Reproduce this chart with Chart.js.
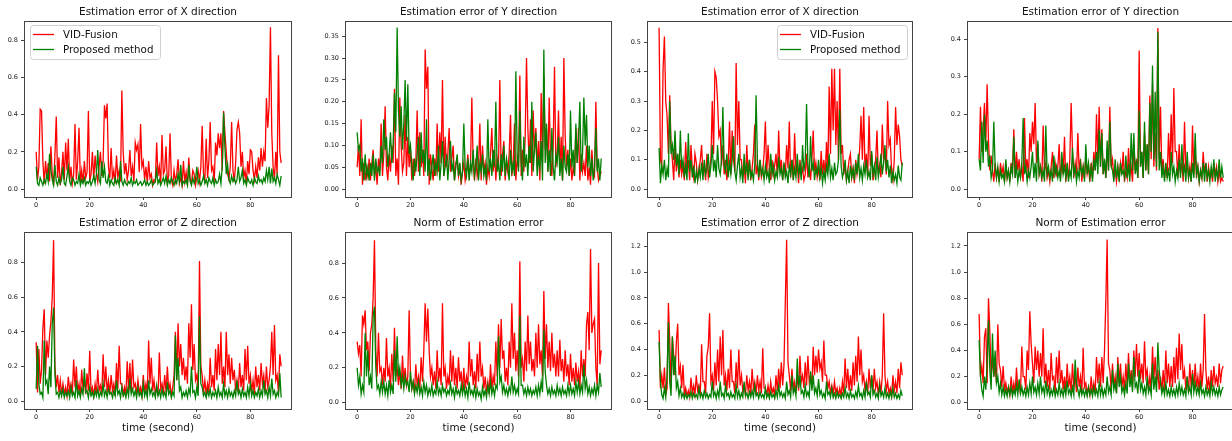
<!DOCTYPE html>
<html>
<head>
<meta charset="utf-8">
<script src="https://cdn.jsdelivr.net/npm/chart.js@4.4.1/dist/chart.umd.min.js"></script>
<style>
  html, body { margin: 0; padding: 0; background: #fff; }
  body { position: relative; width: 1232px; height: 441px; overflow: hidden; }
  canvas { position: absolute; }
</style>
</head>
<body>
<script>
// ─── Sampling ─────────────────────────────────────────────────────────────────
const SAMPLE_STEP = 0.5;            // seconds between samples
const X_TICKS = [0, 20, 40, 60, 80];
const SERIES_LABELS = ['VID-Fusion', 'Proposed method'];

// ─── Run A: X / Y / Z / norm errors ──────────────────────────────────────────
const X_ERR_VID_A = [
  0.20, 0.05, 0.12, 0.43, 0.42, 0.15, 0.03, 0.15, 0.06, 0.14,
  0.04, 0.23, 0.08, 0.02, 0.18, 0.39, 0.06, 0.17, 0.02, 0.09,
  0.20, 0.05, 0.25, 0.10, 0.27, 0.04, 0.12, 0.03, 0.08, 0.35,
  0.05, 0.15, 0.33, 0.04, 0.10, 0.03, 0.15, 0.06, 0.09, 0.42,
  0.04, 0.08, 0.20, 0.05, 0.18, 0.09, 0.04, 0.12, 0.20, 0.07,
  0.15, 0.45, 0.38, 0.46, 0.12, 0.06, 0.22, 0.05, 0.10, 0.03,
  0.18, 0.06, 0.10, 0.04, 0.53, 0.20, 0.08, 0.14, 0.05, 0.10,
  0.21, 0.07, 0.12, 0.04, 0.25, 0.21, 0.24, 0.09, 0.35, 0.12,
  0.15, 0.05, 0.12, 0.03, 0.15, 0.06, 0.08, 0.02, 0.05, 0.04,
  0.25, 0.07, 0.12, 0.03, 0.29, 0.08, 0.10, 0.23, 0.04, 0.07,
  0.30, 0.05, 0.02, 0.10, 0.04, 0.08, 0.16, 0.03, 0.06, 0.02,
  0.15, 0.04, 0.09, 0.02, 0.17, 0.05, 0.03, 0.10, 0.08, 0.02,
  0.06, 0.10, 0.04, 0.12, 0.34, 0.08, 0.05, 0.27, 0.06, 0.15,
  0.36, 0.10, 0.12, 0.04, 0.25, 0.18, 0.30, 0.22, 0.30, 0.10,
  0.42, 0.30, 0.20, 0.08, 0.05, 0.12, 0.36, 0.10, 0.04, 0.14,
  0.32, 0.36, 0.30, 0.12, 0.20, 0.06, 0.10, 0.03, 0.15, 0.08,
  0.21, 0.20, 0.10, 0.05, 0.12, 0.06, 0.17, 0.10, 0.22, 0.12,
  0.20, 0.15, 0.49, 0.33, 0.45, 0.87, 0.30, 0.12, 0.05, 0.20,
  0.08, 0.72, 0.20, 0.14
];
const X_ERR_OURS_A = [
  0.12, 0.03, 0.02, 0.06, 0.04, 0.02, 0.05, 0.03, 0.08, 0.04,
  0.19, 0.10, 0.05, 0.02, 0.13, 0.04, 0.02, 0.06, 0.03, 0.05,
  0.12, 0.03, 0.02, 0.07, 0.12, 0.04, 0.02, 0.06, 0.05, 0.02,
  0.04, 0.03, 0.08, 0.02, 0.05, 0.03, 0.06, 0.02, 0.04, 0.03,
  0.05, 0.02, 0.04, 0.07, 0.03, 0.08, 0.21, 0.05, 0.03, 0.15,
  0.06, 0.12, 0.04, 0.03, 0.07, 0.02, 0.05, 0.03, 0.02, 0.06,
  0.03, 0.05, 0.02, 0.15, 0.04, 0.02, 0.05, 0.03, 0.02, 0.04,
  0.03, 0.06, 0.02, 0.04, 0.03, 0.05, 0.02, 0.03, 0.04, 0.02,
  0.03, 0.05, 0.02, 0.04, 0.02, 0.03, 0.05, 0.02, 0.03, 0.04,
  0.10, 0.03, 0.05, 0.02, 0.04, 0.06, 0.03, 0.07, 0.02, 0.05,
  0.03, 0.06, 0.04, 0.02, 0.05, 0.03, 0.08, 0.04, 0.13, 0.02,
  0.04, 0.03, 0.05, 0.02, 0.13, 0.04, 0.02, 0.06, 0.03, 0.05,
  0.12, 0.03, 0.05, 0.02, 0.04, 0.07, 0.03, 0.05, 0.02, 0.06,
  0.04, 0.03, 0.06, 0.02, 0.05, 0.03, 0.04, 0.08, 0.03, 0.12,
  0.41, 0.22, 0.08, 0.13, 0.05, 0.03, 0.07, 0.04, 0.06, 0.03,
  0.05, 0.12, 0.04, 0.06, 0.10, 0.03, 0.05, 0.02, 0.06, 0.04,
  0.03, 0.05, 0.02, 0.06, 0.04, 0.03, 0.07, 0.04, 0.05, 0.03,
  0.06, 0.04, 0.10, 0.05, 0.12, 0.03, 0.11, 0.04, 0.06, 0.03,
  0.08, 0.05, 0.02, 0.07
];
const Y_ERR_VID_A = [
  0.05, 0.10, 0.03, 0.16, 0.01, 0.06, 0.02, 0.05, 0.03, 0.07,
  0.02, 0.06, 0.09, 0.03, 0.05, 0.01, 0.07, 0.04, 0.15, 0.03,
  0.08, 0.19, 0.05, 0.02, 0.08, 0.04, 0.10, 0.06, 0.23, 0.03,
  0.07, 0.01, 0.21, 0.10, 0.04, 0.06, 0.17, 0.03, 0.12, 0.05,
  0.09, 0.02, 0.07, 0.03, 0.06, 0.18, 0.04, 0.13, 0.05, 0.09,
  0.03, 0.32, 0.23, 0.28, 0.01, 0.08, 0.05, 0.02, 0.07, 0.03,
  0.15, 0.04, 0.13, 0.06, 0.25, 0.03, 0.12, 0.05, 0.08, 0.14,
  0.04, 0.07, 0.10, 0.02, 0.06, 0.07, 0.03, 0.05, 0.01, 0.04,
  0.06, 0.02, 0.04, 0.08, 0.03, 0.05, 0.21, 0.06, 0.02, 0.07,
  0.03, 0.05, 0.15, 0.02, 0.10, 0.04, 0.06, 0.01, 0.05, 0.03,
  0.08, 0.14, 0.04, 0.09, 0.02, 0.07, 0.05, 0.25, 0.03, 0.08,
  0.11, 0.02, 0.06, 0.04, 0.08, 0.17, 0.03, 0.06, 0.15, 0.02,
  0.07, 0.05, 0.26, 0.03, 0.09, 0.04, 0.12, 0.30, 0.14, 0.06,
  0.16, 0.03, 0.18, 0.08, 0.14, 0.05, 0.11, 0.02, 0.22, 0.06,
  0.26, 0.09, 0.14, 0.04, 0.21, 0.07, 0.03, 0.10, 0.28, 0.05,
  0.08, 0.18, 0.04, 0.12, 0.02, 0.30, 0.12, 0.05, 0.09, 0.03,
  0.07, 0.02, 0.05, 0.03, 0.14, 0.06, 0.14, 0.02, 0.08, 0.04,
  0.06, 0.03, 0.10, 0.02, 0.05, 0.01, 0.09, 0.04, 0.03, 0.20,
  0.05, 0.02, 0.03, 0.04
];
const Y_ERR_OURS_A = [
  0.13, 0.09, 0.10, 0.04, 0.07, 0.02, 0.08, 0.03, 0.05, 0.02,
  0.06, 0.03, 0.08, 0.02, 0.07, 0.04, 0.05, 0.03, 0.10, 0.06,
  0.16, 0.09, 0.12, 0.05, 0.08, 0.13, 0.06, 0.10, 0.22, 0.13,
  0.37, 0.18, 0.12, 0.19, 0.09, 0.15, 0.25, 0.11, 0.24, 0.08,
  0.10, 0.05, 0.02, 0.07, 0.04, 0.08, 0.12, 0.03, 0.13, 0.06,
  0.09, 0.04, 0.16, 0.03, 0.07, 0.02, 0.05, 0.08, 0.03, 0.06,
  0.04, 0.10, 0.02, 0.06, 0.11, 0.03, 0.05, 0.08, 0.02, 0.07,
  0.11, 0.04, 0.06, 0.02, 0.05, 0.08, 0.03, 0.06, 0.02, 0.04,
  0.15, 0.05, 0.03, 0.07, 0.02, 0.06, 0.04, 0.09, 0.03, 0.05,
  0.10, 0.02, 0.06, 0.04, 0.08, 0.03, 0.05, 0.02, 0.16, 0.04,
  0.07, 0.03, 0.09, 0.05, 0.20, 0.04, 0.06, 0.02, 0.08, 0.04,
  0.10, 0.03, 0.07, 0.05, 0.02, 0.09, 0.04, 0.06, 0.03, 0.27,
  0.08, 0.04, 0.18, 0.06, 0.02, 0.12, 0.05, 0.08, 0.03, 0.10,
  0.06, 0.20, 0.04, 0.09, 0.13, 0.03, 0.07, 0.05, 0.11, 0.02,
  0.32, 0.06, 0.15, 0.04, 0.09, 0.03, 0.14, 0.05, 0.02, 0.08,
  0.06, 0.12, 0.03, 0.07, 0.02, 0.10, 0.05, 0.04, 0.08, 0.03,
  0.18, 0.05, 0.09, 0.03, 0.15, 0.06, 0.11, 0.20, 0.04, 0.08,
  0.21, 0.10, 0.17, 0.05, 0.10, 0.03, 0.07, 0.02, 0.05, 0.14,
  0.04, 0.07, 0.02, 0.07
];
const Z_ERR_VID_A = [
  0.34, 0.05, 0.30, 0.10, 0.18, 0.42, 0.53, 0.15, 0.35, 0.25,
  0.38, 0.46, 0.60, 0.93, 0.20, 0.08, 0.15, 0.05, 0.12, 0.04,
  0.10, 0.04, 0.08, 0.03, 0.14, 0.06, 0.10, 0.04, 0.24, 0.08,
  0.20, 0.05, 0.10, 0.03, 0.18, 0.07, 0.12, 0.04, 0.16, 0.06,
  0.29, 0.05, 0.08, 0.03, 0.10, 0.04, 0.18, 0.06, 0.09, 0.04,
  0.27, 0.08, 0.20, 0.05, 0.12, 0.04, 0.15, 0.06, 0.10, 0.03,
  0.22, 0.07, 0.32, 0.10, 0.10, 0.04, 0.08, 0.03, 0.23, 0.06,
  0.22, 0.05, 0.24, 0.08, 0.10, 0.04, 0.12, 0.05, 0.08, 0.03,
  0.15, 0.05, 0.10, 0.04, 0.35, 0.10, 0.25, 0.06, 0.12, 0.04,
  0.08, 0.03, 0.28, 0.07, 0.10, 0.04, 0.15, 0.05, 0.20, 0.06,
  0.10, 0.03, 0.08, 0.15, 0.40, 0.12, 0.45, 0.20, 0.33, 0.15,
  0.25, 0.12, 0.20, 0.10, 0.45, 0.25, 0.56, 0.18, 0.33, 0.12,
  0.15, 0.06, 0.81, 0.20, 0.15, 0.05, 0.12, 0.04, 0.10, 0.05,
  0.25, 0.08, 0.15, 0.06, 0.30, 0.12, 0.33, 0.15, 0.40, 0.10,
  0.20, 0.08, 0.40, 0.15, 0.27, 0.10, 0.25, 0.12, 0.18, 0.06,
  0.12, 0.05, 0.22, 0.08, 0.15, 0.06, 0.30, 0.12, 0.32, 0.10,
  0.15, 0.05, 0.12, 0.04, 0.20, 0.08, 0.15, 0.06, 0.22, 0.10,
  0.15, 0.05, 0.20, 0.08, 0.12, 0.20, 0.40, 0.15, 0.44, 0.12,
  0.15, 0.05, 0.27, 0.20
];
const Z_ERR_OURS_A = [
  0.07, 0.32, 0.10, 0.04, 0.05, 0.02, 0.35, 0.10, 0.12, 0.04,
  0.20, 0.08, 0.45, 0.54, 0.15, 0.04, 0.05, 0.02, 0.06, 0.03,
  0.07, 0.02, 0.05, 0.03, 0.06, 0.02, 0.08, 0.03, 0.05, 0.02,
  0.12, 0.03, 0.06, 0.02, 0.07, 0.04, 0.19, 0.05, 0.06, 0.02,
  0.08, 0.03, 0.05, 0.02, 0.06, 0.03, 0.07, 0.02, 0.05, 0.03,
  0.10, 0.03, 0.06, 0.02, 0.07, 0.04, 0.05, 0.02, 0.06, 0.03,
  0.12, 0.04, 0.06, 0.02, 0.08, 0.03, 0.05, 0.02, 0.07, 0.03,
  0.13, 0.04, 0.07, 0.03, 0.06, 0.02, 0.08, 0.03, 0.05, 0.02,
  0.10, 0.03, 0.06, 0.02, 0.12, 0.04, 0.07, 0.03, 0.05, 0.02,
  0.09, 0.03, 0.06, 0.02, 0.07, 0.03, 0.05, 0.02, 0.11, 0.04,
  0.06, 0.02, 0.05, 0.03, 0.38, 0.12, 0.25, 0.06, 0.08, 0.02,
  0.05, 0.03, 0.06, 0.02, 0.07, 0.04, 0.20, 0.05, 0.06, 0.02,
  0.08, 0.03, 0.49, 0.10, 0.08, 0.03, 0.05, 0.02, 0.06, 0.03,
  0.07, 0.02, 0.05, 0.03, 0.06, 0.02, 0.08, 0.03, 0.05, 0.02,
  0.10, 0.03, 0.06, 0.02, 0.07, 0.03, 0.05, 0.02, 0.06, 0.03,
  0.12, 0.04, 0.06, 0.02, 0.07, 0.03, 0.05, 0.02, 0.08, 0.03,
  0.10, 0.03, 0.06, 0.02, 0.05, 0.03, 0.07, 0.02, 0.06, 0.03,
  0.12, 0.04, 0.06, 0.02, 0.08, 0.03, 0.13, 0.04, 0.06, 0.02,
  0.05, 0.03, 0.16, 0.02
];
const NORM_ERR_VID_A = [
  0.35, 0.28, 0.33, 0.15, 0.50, 0.45, 0.53, 0.30, 0.35, 0.18,
  0.40, 0.45, 0.60, 0.93, 0.30, 0.15, 0.40, 0.18, 0.20, 0.10,
  0.20, 0.12, 0.37, 0.15, 0.20, 0.08, 0.28, 0.12, 0.43, 0.15,
  0.20, 0.10, 0.18, 0.08, 0.27, 0.12, 0.20, 0.10, 0.15, 0.53,
  0.15, 0.08, 0.12, 0.06, 0.22, 0.10, 0.15, 0.08, 0.26, 0.12,
  0.30, 0.57, 0.35, 0.54, 0.30, 0.15, 0.20, 0.10, 0.18, 0.08,
  0.30, 0.12, 0.20, 0.10, 0.57, 0.15, 0.20, 0.08, 0.15, 0.10,
  0.30, 0.12, 0.27, 0.10, 0.20, 0.08, 0.26, 0.12, 0.18, 0.06,
  0.20, 0.08, 0.15, 0.10, 0.35, 0.15, 0.25, 0.10, 0.18, 0.08,
  0.28, 0.12, 0.35, 0.15, 0.20, 0.08, 0.15, 0.06, 0.12, 0.05,
  0.22, 0.08, 0.15, 0.10, 0.35, 0.15, 0.45, 0.20, 0.48, 0.25,
  0.30, 0.12, 0.20, 0.10, 0.35, 0.20, 0.57, 0.25, 0.40, 0.18,
  0.30, 0.15, 0.81, 0.20, 0.25, 0.12, 0.35, 0.18, 0.50, 0.22,
  0.35, 0.18, 0.25, 0.15, 0.40, 0.20, 0.45, 0.22, 0.30, 0.15,
  0.64, 0.25, 0.45, 0.20, 0.35, 0.18, 0.40, 0.20, 0.28, 0.15,
  0.30, 0.15, 0.36, 0.18, 0.25, 0.12, 0.30, 0.15, 0.22, 0.10,
  0.28, 0.12, 0.20, 0.10, 0.23, 0.12, 0.18, 0.08, 0.30, 0.15,
  0.25, 0.15, 0.45, 0.52, 0.30, 0.88, 0.40, 0.45, 0.48, 0.20,
  0.10, 0.80, 0.22, 0.30
];
const NORM_ERR_OURS_A = [
  0.20, 0.10, 0.15, 0.05, 0.10, 0.06, 0.40, 0.15, 0.30, 0.10,
  0.15, 0.08, 0.50, 0.55, 0.20, 0.08, 0.10, 0.05, 0.12, 0.06,
  0.12, 0.05, 0.10, 0.04, 0.13, 0.06, 0.10, 0.05, 0.30, 0.12,
  0.38, 0.15, 0.20, 0.10, 0.15, 0.08, 0.15, 0.10, 0.12, 0.06,
  0.18, 0.08, 0.12, 0.05, 0.10, 0.06, 0.12, 0.05, 0.09, 0.04,
  0.12, 0.06, 0.10, 0.04, 0.08, 0.05, 0.10, 0.04, 0.07, 0.05,
  0.12, 0.05, 0.08, 0.04, 0.10, 0.06, 0.08, 0.04, 0.07, 0.05,
  0.11, 0.05, 0.08, 0.03, 0.09, 0.05, 0.07, 0.04, 0.10, 0.05,
  0.10, 0.04, 0.08, 0.03, 0.12, 0.05, 0.07, 0.04, 0.09, 0.03,
  0.08, 0.04, 0.06, 0.02, 0.09, 0.04, 0.07, 0.03, 0.10, 0.05,
  0.12, 0.05, 0.09, 0.04, 0.10, 0.08, 0.38, 0.12, 0.15, 0.06,
  0.10, 0.05, 0.08, 0.04, 0.09, 0.06, 0.15, 0.06, 0.10, 0.05,
  0.08, 0.05, 0.50, 0.10, 0.10, 0.05, 0.08, 0.04, 0.09, 0.05,
  0.08, 0.04, 0.07, 0.05, 0.09, 0.04, 0.10, 0.05, 0.12, 0.06,
  0.42, 0.18, 0.10, 0.05, 0.08, 0.04, 0.09, 0.05, 0.07, 0.04,
  0.10, 0.05, 0.08, 0.04, 0.09, 0.05, 0.07, 0.04, 0.10, 0.05,
  0.10, 0.05, 0.08, 0.04, 0.12, 0.06, 0.12, 0.05, 0.10, 0.06,
  0.22, 0.08, 0.13, 0.05, 0.09, 0.04, 0.08, 0.05, 0.10, 0.04,
  0.10, 0.06, 0.17, 0.09
];

// ─── Run B: X / Y / Z / norm errors ──────────────────────────────────────────
const X_ERR_VID_B = [
  0.55, 0.10, 0.08, 0.41, 0.52, 0.30, 0.25, 0.12, 0.32, 0.15,
  0.10, 0.03, 0.15, 0.06, 0.12, 0.04, 0.10, 0.05, 0.08, 0.03,
  0.16, 0.06, 0.10, 0.03, 0.15, 0.07, 0.04, 0.12, 0.09, 0.03,
  0.06, 0.10, 0.15, 0.05, 0.08, 0.03, 0.12, 0.04, 0.07, 0.10,
  0.30, 0.12, 0.40, 0.38, 0.30, 0.18, 0.20, 0.08, 0.15, 0.05,
  0.10, 0.03, 0.08, 0.23, 0.05, 0.20, 0.10, 0.06, 0.43, 0.15,
  0.30, 0.10, 0.10, 0.04, 0.08, 0.02, 0.15, 0.05, 0.10, 0.03,
  0.07, 0.12, 0.22, 0.05, 0.08, 0.03, 0.10, 0.04, 0.06, 0.12,
  0.23, 0.05, 0.15, 0.07, 0.03, 0.10, 0.05, 0.08, 0.12, 0.04,
  0.20, 0.06, 0.10, 0.03, 0.08, 0.05, 0.15, 0.07, 0.23, 0.04,
  0.10, 0.03, 0.19, 0.06, 0.08, 0.02, 0.10, 0.05, 0.07, 0.03,
  0.05, 0.12, 0.04, 0.08, 0.03, 0.10, 0.20, 0.06, 0.09, 0.04,
  0.07, 0.03, 0.13, 0.05, 0.10, 0.04, 0.16, 0.06, 0.35, 0.12,
  0.41, 0.20, 0.41, 0.15, 0.30, 0.10, 0.41, 0.12, 0.15, 0.05,
  0.08, 0.03, 0.06, 0.10, 0.12, 0.04, 0.07, 0.02, 0.10, 0.05,
  0.08, 0.14, 0.25, 0.10, 0.28, 0.06, 0.12, 0.04, 0.25, 0.08,
  0.12, 0.03, 0.06, 0.10, 0.20, 0.05, 0.08, 0.04, 0.22, 0.10,
  0.12, 0.05, 0.30, 0.15, 0.17, 0.06, 0.03, 0.10, 0.28, 0.15,
  0.22, 0.18, 0.10, 0.08
];
const X_ERR_OURS_B = [
  0.14, 0.02, 0.08, 0.05, 0.10, 0.03, 0.07, 0.04, 0.30, 0.12,
  0.15, 0.10, 0.20, 0.08, 0.12, 0.05, 0.20, 0.07, 0.10, 0.04,
  0.08, 0.03, 0.19, 0.06, 0.10, 0.04, 0.08, 0.02, 0.06, 0.03,
  0.07, 0.04, 0.09, 0.03, 0.10, 0.05, 0.07, 0.12, 0.04, 0.08,
  0.15, 0.06, 0.10, 0.04, 0.15, 0.07, 0.05, 0.10, 0.28, 0.08,
  0.06, 0.12, 0.04, 0.09, 0.05, 0.10, 0.18, 0.06, 0.03, 0.08,
  0.12, 0.04, 0.07, 0.02, 0.12, 0.05, 0.09, 0.03, 0.10, 0.04,
  0.06, 0.03, 0.08, 0.32, 0.10, 0.04, 0.10, 0.05, 0.07, 0.03,
  0.08, 0.04, 0.06, 0.02, 0.12, 0.05, 0.08, 0.03, 0.06, 0.04,
  0.11, 0.05, 0.07, 0.03, 0.09, 0.04, 0.06, 0.02, 0.08, 0.05,
  0.10, 0.03, 0.07, 0.04, 0.12, 0.05, 0.08, 0.03, 0.15, 0.06,
  0.10, 0.29, 0.08, 0.04, 0.18, 0.06, 0.09, 0.03, 0.07, 0.05,
  0.10, 0.04, 0.07, 0.02, 0.06, 0.03, 0.08, 0.05, 0.12, 0.04,
  0.07, 0.03, 0.09, 0.05, 0.06, 0.10, 0.27, 0.08, 0.04, 0.06,
  0.10, 0.03, 0.06, 0.02, 0.08, 0.04, 0.07, 0.03, 0.09, 0.05,
  0.12, 0.04, 0.07, 0.03, 0.08, 0.05, 0.10, 0.04, 0.06, 0.03,
  0.13, 0.05, 0.08, 0.03, 0.11, 0.04, 0.07, 0.12, 0.05, 0.09,
  0.15, 0.06, 0.10, 0.04, 0.08, 0.02, 0.06, 0.03, 0.05, 0.02,
  0.08, 0.04, 0.03, 0.09
];
const Y_ERR_VID_B = [
  0.08, 0.22, 0.10, 0.16, 0.23, 0.12, 0.28, 0.13, 0.05, 0.09,
  0.05, 0.02, 0.07, 0.03, 0.05, 0.02, 0.07, 0.04, 0.06, 0.02,
  0.06, 0.03, 0.05, 0.02, 0.07, 0.04, 0.16, 0.03, 0.10, 0.05,
  0.08, 0.03, 0.06, 0.02, 0.19, 0.05, 0.08, 0.03, 0.15, 0.10,
  0.18, 0.12, 0.23, 0.07, 0.12, 0.04, 0.06, 0.02, 0.17, 0.05,
  0.07, 0.03, 0.05, 0.02, 0.06, 0.10, 0.03, 0.07, 0.04, 0.06,
  0.12, 0.03, 0.07, 0.04, 0.14, 0.02, 0.06, 0.03, 0.08, 0.23,
  0.10, 0.03, 0.07, 0.04, 0.15, 0.05, 0.08, 0.02, 0.06, 0.03,
  0.08, 0.04, 0.06, 0.02, 0.07, 0.03, 0.10, 0.05, 0.20, 0.08,
  0.22, 0.06, 0.16, 0.04, 0.07, 0.03, 0.11, 0.05, 0.22, 0.06,
  0.08, 0.03, 0.05, 0.02, 0.06, 0.03, 0.07, 0.04, 0.10, 0.02,
  0.05, 0.03, 0.11, 0.04, 0.06, 0.02, 0.12, 0.05, 0.08, 0.03,
  0.37, 0.06, 0.10, 0.03, 0.15, 0.05, 0.12, 0.04, 0.25, 0.08,
  0.28, 0.06, 0.15, 0.05, 0.43, 0.08, 0.22, 0.04, 0.08, 0.03,
  0.06, 0.03, 0.15, 0.05, 0.20, 0.07, 0.27, 0.10, 0.10, 0.03,
  0.12, 0.04, 0.07, 0.02, 0.18, 0.05, 0.07, 0.03, 0.06, 0.02,
  0.17, 0.04, 0.10, 0.03, 0.06, 0.02, 0.05, 0.03, 0.10, 0.04,
  0.07, 0.02, 0.06, 0.03, 0.05, 0.02, 0.07, 0.04, 0.06, 0.02,
  0.05, 0.02, 0.03, 0.02
];
const Y_ERR_OURS_B = [
  0.08, 0.05, 0.18, 0.07, 0.20, 0.10, 0.13, 0.06, 0.09, 0.03,
  0.05, 0.18, 0.06, 0.03, 0.06, 0.02, 0.05, 0.03, 0.04, 0.02,
  0.08, 0.03, 0.05, 0.02, 0.06, 0.04, 0.14, 0.03, 0.06, 0.02,
  0.05, 0.03, 0.07, 0.19, 0.04, 0.06, 0.02, 0.05, 0.03, 0.06,
  0.10, 0.03, 0.07, 0.02, 0.13, 0.04, 0.06, 0.03, 0.05, 0.02,
  0.17, 0.04, 0.06, 0.03, 0.05, 0.02, 0.09, 0.04, 0.06, 0.03,
  0.05, 0.02, 0.10, 0.04, 0.06, 0.03, 0.07, 0.02, 0.05, 0.03,
  0.11, 0.04, 0.06, 0.02, 0.05, 0.03, 0.07, 0.04, 0.06, 0.02,
  0.12, 0.04, 0.07, 0.03, 0.06, 0.02, 0.08, 0.05, 0.10, 0.04,
  0.16, 0.06, 0.15, 0.04, 0.08, 0.03, 0.13, 0.05, 0.18, 0.06,
  0.05, 0.02, 0.08, 0.03, 0.06, 0.02, 0.07, 0.04, 0.05, 0.03,
  0.09, 0.03, 0.06, 0.02, 0.15, 0.05, 0.15, 0.04, 0.07, 0.03,
  0.21, 0.06, 0.10, 0.03, 0.18, 0.05, 0.12, 0.04, 0.23, 0.10,
  0.33, 0.08, 0.26, 0.06, 0.42, 0.05, 0.10, 0.03, 0.06, 0.02,
  0.07, 0.03, 0.05, 0.02, 0.10, 0.04, 0.06, 0.02, 0.05, 0.03,
  0.08, 0.03, 0.12, 0.04, 0.06, 0.02, 0.10, 0.03, 0.05, 0.02,
  0.07, 0.03, 0.15, 0.04, 0.06, 0.02, 0.05, 0.03, 0.07, 0.02,
  0.07, 0.03, 0.05, 0.02, 0.06, 0.03, 0.08, 0.02, 0.05, 0.03,
  0.08, 0.03, 0.06, 0.03
];
const Z_ERR_VID_B = [
  0.55, 0.10, 0.20, 0.10, 0.26, 0.05, 0.10, 0.76, 0.47, 0.10,
  0.50, 0.35, 0.20, 0.46, 0.60, 0.20, 0.27, 0.10, 0.28, 0.05,
  0.10, 0.04, 0.08, 0.03, 0.18, 0.06, 0.12, 0.05, 0.20, 0.08,
  0.12, 0.05, 0.44, 0.15, 0.15, 0.06, 0.35, 0.42, 0.68, 0.15,
  0.20, 0.08, 0.30, 0.12, 0.40, 0.15, 0.50, 0.20, 0.55, 0.12,
  0.20, 0.08, 0.25, 0.10, 0.40, 0.15, 0.15, 0.06, 0.30, 0.10,
  0.40, 0.12, 0.20, 0.08, 0.12, 0.05, 0.20, 0.08, 0.15, 0.05,
  0.25, 0.10, 0.15, 0.05, 0.20, 0.08, 0.15, 0.06, 0.41, 0.10,
  0.10, 0.04, 0.12, 0.05, 0.15, 0.06, 0.10, 0.04, 0.20, 0.08,
  0.25, 0.10, 0.30, 0.12, 0.28, 0.77, 1.25, 0.30, 0.20, 0.08,
  0.25, 0.10, 0.15, 0.06, 0.20, 0.08, 0.35, 0.15, 0.20, 0.10,
  0.30, 0.12, 0.35, 0.15, 0.20, 0.10, 0.42, 0.20, 0.35, 0.22,
  0.40, 0.25, 0.30, 0.15, 0.47, 0.20, 0.20, 0.10, 0.15, 0.06,
  0.12, 0.05, 0.15, 0.06, 0.10, 0.04, 0.10, 0.04, 0.15, 0.06,
  0.33, 0.10, 0.25, 0.08, 0.20, 0.08, 0.30, 0.12, 0.35, 0.15,
  0.50, 0.20, 0.40, 0.15, 0.20, 0.08, 0.15, 0.06, 0.25, 0.10,
  0.20, 0.08, 0.25, 0.10, 0.15, 0.05, 0.15, 0.06, 0.20, 0.68,
  0.20, 0.08, 0.15, 0.06, 0.10, 0.04, 0.20, 0.08, 0.15, 0.06,
  0.25, 0.10, 0.30, 0.20
];
const Z_ERR_OURS_B = [
  0.46, 0.15, 0.05, 0.02, 0.10, 0.03, 0.20, 0.61, 0.15, 0.04,
  0.50, 0.20, 0.35, 0.10, 0.15, 0.04, 0.10, 0.03, 0.06, 0.02,
  0.06, 0.02, 0.05, 0.03, 0.07, 0.02, 0.06, 0.03, 0.05, 0.02,
  0.10, 0.03, 0.06, 0.02, 0.08, 0.03, 0.06, 0.02, 0.05, 0.03,
  0.15, 0.04, 0.07, 0.02, 0.08, 0.03, 0.15, 0.04, 0.06, 0.02,
  0.12, 0.04, 0.06, 0.02, 0.07, 0.03, 0.05, 0.02, 0.12, 0.03,
  0.08, 0.02, 0.06, 0.03, 0.15, 0.04, 0.06, 0.02, 0.07, 0.03,
  0.08, 0.03, 0.12, 0.04, 0.06, 0.02, 0.07, 0.03, 0.05, 0.02,
  0.10, 0.03, 0.06, 0.02, 0.07, 0.03, 0.05, 0.02, 0.08, 0.03,
  0.12, 0.04, 0.07, 0.03, 0.06, 0.02, 0.15, 0.05, 0.08, 0.03,
  0.20, 0.06, 0.10, 0.04, 0.33, 0.10, 0.20, 0.06, 0.08, 0.03,
  0.12, 0.04, 0.07, 0.03, 0.23, 0.08, 0.20, 0.06, 0.10, 0.04,
  0.17, 0.05, 0.08, 0.03, 0.06, 0.02, 0.15, 0.05, 0.07, 0.03,
  0.10, 0.03, 0.06, 0.02, 0.07, 0.03, 0.05, 0.02, 0.06, 0.03,
  0.10, 0.03, 0.06, 0.02, 0.08, 0.03, 0.05, 0.02, 0.07, 0.03,
  0.12, 0.04, 0.06, 0.02, 0.08, 0.03, 0.15, 0.05, 0.07, 0.03,
  0.20, 0.05, 0.08, 0.03, 0.06, 0.02, 0.12, 0.04, 0.07, 0.03,
  0.10, 0.03, 0.06, 0.02, 0.07, 0.03, 0.10, 0.03, 0.06, 0.02,
  0.05, 0.02, 0.08, 0.04
];
const NORM_ERR_VID_B = [
  0.68, 0.20, 0.28, 0.15, 0.50, 0.57, 0.15, 0.80, 0.55, 0.20,
  0.35, 0.20, 0.30, 0.15, 0.60, 0.30, 0.25, 0.12, 0.28, 0.10,
  0.15, 0.08, 0.12, 0.06, 0.20, 0.08, 0.15, 0.07, 0.27, 0.10,
  0.15, 0.07, 0.43, 0.20, 0.20, 0.10, 0.40, 0.25, 0.70, 0.45,
  0.30, 0.15, 0.43, 0.25, 0.40, 0.20, 0.38, 0.20, 0.57, 0.15,
  0.30, 0.12, 0.25, 0.10, 0.38, 0.18, 0.20, 0.08, 0.35, 0.15,
  0.40, 0.15, 0.25, 0.10, 0.20, 0.08, 0.30, 0.12, 0.20, 0.08,
  0.30, 0.12, 0.20, 0.08, 0.27, 0.12, 0.20, 0.08, 0.42, 0.12,
  0.15, 0.07, 0.12, 0.06, 0.20, 0.08, 0.15, 0.07, 0.35, 0.15,
  0.30, 0.12, 0.35, 0.15, 0.40, 0.78, 1.25, 0.30, 0.25, 0.10,
  0.30, 0.12, 0.20, 0.08, 0.35, 0.15, 0.30, 0.12, 0.20, 0.10,
  0.30, 0.12, 0.38, 0.15, 0.25, 0.12, 0.40, 0.20, 0.45, 0.20,
  0.38, 0.18, 0.30, 0.15, 0.47, 0.20, 0.25, 0.10, 0.20, 0.10,
  0.43, 0.18, 0.35, 0.15, 0.25, 0.10, 0.20, 0.08, 0.25, 0.10,
  0.40, 0.15, 0.30, 0.12, 0.28, 0.12, 0.35, 0.15, 0.42, 0.18,
  0.53, 0.25, 0.45, 0.18, 0.25, 0.10, 0.20, 0.08, 0.30, 0.12,
  0.25, 0.10, 0.30, 0.12, 0.20, 0.08, 0.30, 0.12, 0.25, 0.68,
  0.25, 0.10, 0.20, 0.08, 0.25, 0.12, 0.28, 0.15, 0.20, 0.12,
  0.30, 0.15, 0.25, 0.28
];
const NORM_ERR_OURS_B = [
  0.48, 0.20, 0.10, 0.05, 0.20, 0.10, 0.30, 0.63, 0.25, 0.10,
  0.53, 0.20, 0.40, 0.15, 0.20, 0.08, 0.15, 0.06, 0.12, 0.05,
  0.10, 0.05, 0.12, 0.06, 0.12, 0.05, 0.10, 0.06, 0.14, 0.06,
  0.18, 0.07, 0.12, 0.06, 0.10, 0.05, 0.12, 0.06, 0.15, 0.07,
  0.20, 0.08, 0.12, 0.06, 0.15, 0.07, 0.20, 0.08, 0.12, 0.06,
  0.17, 0.07, 0.12, 0.05, 0.10, 0.06, 0.12, 0.05, 0.10, 0.06,
  0.15, 0.06, 0.10, 0.05, 0.12, 0.06, 0.17, 0.07, 0.10, 0.05,
  0.12, 0.06, 0.33, 0.15, 0.10, 0.05, 0.12, 0.06, 0.10, 0.05,
  0.10, 0.05, 0.12, 0.06, 0.10, 0.05, 0.12, 0.06, 0.10, 0.05,
  0.15, 0.06, 0.12, 0.05, 0.10, 0.06, 0.20, 0.08, 0.12, 0.06,
  0.25, 0.10, 0.15, 0.07, 0.30, 0.12, 0.20, 0.08, 0.12, 0.06,
  0.15, 0.07, 0.30, 0.12, 0.20, 0.08, 0.35, 0.12, 0.15, 0.07,
  0.25, 0.10, 0.15, 0.07, 0.12, 0.06, 0.20, 0.08, 0.12, 0.06,
  0.30, 0.10, 0.20, 0.08, 0.46, 0.25, 0.15, 0.07, 0.12, 0.06,
  0.15, 0.06, 0.10, 0.05, 0.12, 0.06, 0.10, 0.05, 0.12, 0.06,
  0.15, 0.07, 0.12, 0.06, 0.10, 0.05, 0.20, 0.08, 0.12, 0.06,
  0.22, 0.08, 0.15, 0.07, 0.12, 0.06, 0.15, 0.07, 0.10, 0.05,
  0.12, 0.06, 0.10, 0.05, 0.15, 0.07, 0.12, 0.06, 0.10, 0.05,
  0.12, 0.06, 0.10, 0.12
];

// ─── Y tick sets ─────────────────────────────────────────────────────────────
const Y_TICKS_09 = [0, 0.2, 0.4, 0.6, 0.8];
const Y_TICKS_035 = [0, 0.05, 0.1, 0.15, 0.2, 0.25, 0.3, 0.35];
const Y_TICKS_05 = [0, 0.1, 0.2, 0.3, 0.4, 0.5];
const Y_TICKS_04 = [0, 0.1, 0.2, 0.3, 0.4];
const Y_TICKS_12 = [0, 0.2, 0.4, 0.6, 0.8, 1.0, 1.2];

// ─── Panel layout (plot box in page pixels) ──────────────────────────────────
const COLS = [[24, 292], [345, 612], [647, 913], [967, 1234]];
const ROWS = [[21, 197], [232, 409]];

const PANELS = [
  { title: 'Estimation error of X direction', vid: X_ERR_VID_A, ours: X_ERR_OURS_A, col: 0, row: 0, y: [-0.043, 0.904], ticks: Y_TICKS_09, dec: 1, legend: 'left' },
  { title: 'Estimation error of Y direction', vid: Y_ERR_VID_A, ours: Y_ERR_OURS_A, col: 1, row: 0, y: [-0.018, 0.385], ticks: Y_TICKS_035, dec: 2 },
  { title: 'Estimation error of X direction', vid: X_ERR_VID_B, ours: X_ERR_OURS_B, col: 2, row: 0, y: [-0.027, 0.573], ticks: Y_TICKS_05, dec: 1, legend: 'right' },
  { title: 'Estimation error of Y direction', vid: Y_ERR_VID_B, ours: Y_ERR_OURS_B, col: 3, row: 0, y: [-0.021, 0.449], ticks: Y_TICKS_04, dec: 1 },
  { title: 'Estimation error of Z direction', vid: Z_ERR_VID_A, ours: Z_ERR_OURS_A, col: 0, row: 1, y: [-0.046, 0.977], ticks: Y_TICKS_09, dec: 1 },
  { title: 'Norm of Estimation error',        vid: NORM_ERR_VID_A, ours: NORM_ERR_OURS_A, col: 1, row: 1, y: [-0.036, 0.978], ticks: Y_TICKS_09, dec: 1 },
  { title: 'Estimation error of Z direction', vid: Z_ERR_VID_B, ours: Z_ERR_OURS_B, col: 2, row: 1, y: [-0.062, 1.311], ticks: Y_TICKS_12, dec: 1 },
  { title: 'Norm of Estimation error',        vid: NORM_ERR_VID_B, ours: NORM_ERR_OURS_B, col: 3, row: 1, y: [-0.048, 1.307], ticks: Y_TICKS_12, dec: 1 }
];

const FONT = '"DejaVu Sans", "Liberation Sans", sans-serif';
const AXIS_W = 30;      // space left of the plot box for y labels
const TOP_PAD = 21;     // space above the plot box for the title

// ─── Title, frame, legend, x label ───────────────────────────────────────────
const decorPlugin = {
  id: 'decor',
  afterDraw(chart) {
    const o = chart.options.plugins.decor;
    const { ctx, chartArea: a } = chart;
    ctx.save();

    // plot frame
    ctx.strokeStyle = '#444';
    ctx.lineWidth = 1;
    ctx.strokeRect(a.left + 0.5, a.top + 0.5, a.right - a.left - 1, a.bottom - a.top);

    ctx.fillStyle = '#111';
    ctx.textAlign = 'center';
    ctx.textBaseline = 'middle';
    ctx.font = `10.5px ${FONT}`;
    ctx.fillText(o.title, (a.left + a.right) / 2, a.top - 8.5);

    if (o.xlabel) {
      ctx.font = `10.4px ${FONT}`;
      ctx.fillText(o.xlabel, (a.left + a.right) / 2, a.bottom + 19.5);
    }

    if (o.legend) {
      const w = 130, h = 34;
      const x = o.legend === 'left' ? a.left + 6 : a.right - 6 - w;
      const y = a.top + 4;
      ctx.beginPath();
      ctx.roundRect(x + 0.5, y + 0.5, w, h, 3);
      ctx.fillStyle = 'rgba(255,255,255,0.85)';
      ctx.fill();
      ctx.strokeStyle = '#d0d0d0';
      ctx.stroke();
      chart.data.datasets.slice().reverse().forEach((ds, i) => {
        const ry = y + 9.5 + i * 15;
        ctx.strokeStyle = ds.borderColor;
        ctx.lineWidth = 1.3;
        ctx.beginPath();
        ctx.moveTo(x + 3, ry);
        ctx.lineTo(x + 24, ry);
        ctx.stroke();
        ctx.fillStyle = '#111';
        ctx.textAlign = 'left';
        ctx.font = `10.3px ${FONT}`;
        ctx.fillText(ds.label, x + 33, ry + 0.5);
      });
    }
    ctx.restore();
  }
};

function toPoints(values) {
  return values.map((v, i) => ({ x: i * SAMPLE_STEP, y: v }));
}

PANELS.forEach(p => {
  const [left, right] = COLS[p.col];
  const [top, bottom] = ROWS[p.row];
  const bottomH = p.row === 1 ? 32 : 18;
  const canvas = document.createElement('canvas');
  canvas.width = right - left + AXIS_W + 3;
  canvas.height = bottom - top + TOP_PAD + bottomH;
  canvas.style.left = (left - AXIS_W) + 'px';
  canvas.style.top = (top - TOP_PAD) + 'px';
  document.body.appendChild(canvas);

  new Chart(canvas.getContext('2d'), {
    type: 'line',
    data: {
      datasets: [{
        label: SERIES_LABELS[1],
        data: toPoints(p.ours),
        borderColor: '#008000',
        order: 0
      }, {
        label: SERIES_LABELS[0],
        data: toPoints(p.vid),
        borderColor: '#ff0000',
        order: 1
      }]
    },
    options: {
      responsive: false,
      animation: false,
      layout: { padding: { top: TOP_PAD, right: 3, left: 0, bottom: 0 } },
      elements: {
        line: { borderWidth: 1.3, tension: 0 },
        point: { radius: 0 }
      },
      plugins: {
        legend: { display: false },
        tooltip: { enabled: false },
        decor: { title: p.title, legend: p.legend, xlabel: p.row === 1 ? 'time (second)' : null }
      },
      scales: {
        x: {
          type: 'linear',
          min: -4.55, max: 95.55,
          afterBuildTicks: (axis) => { axis.ticks = X_TICKS.map(v => ({ value: v })); },
          afterFit: (scale) => { scale.height = bottomH; },
          grid: { drawOnChartArea: false, drawTicks: true, tickLength: 3, tickColor: '#444' },
          border: { display: false },
          ticks: { color: '#222', font: { family: FONT, size: 6.5 }, padding: 1, maxRotation: 0,
            callback: (v) => String(v) }
        },
        y: {
          min: p.y[0], max: p.y[1],
          afterBuildTicks: (axis) => { axis.ticks = p.ticks.map(v => ({ value: v })); },
          afterFit: (scale) => { scale.width = AXIS_W; },
          grid: { drawOnChartArea: false, drawTicks: true, tickLength: 3, tickColor: '#444' },
          border: { display: false },
          ticks: { color: '#222', font: { family: FONT, size: 6.5 }, padding: 3,
            callback: (v) => v.toFixed(p.dec) }
        }
      }
    },
    plugins: [decorPlugin]
  });
});
</script>
</body>
</html>
